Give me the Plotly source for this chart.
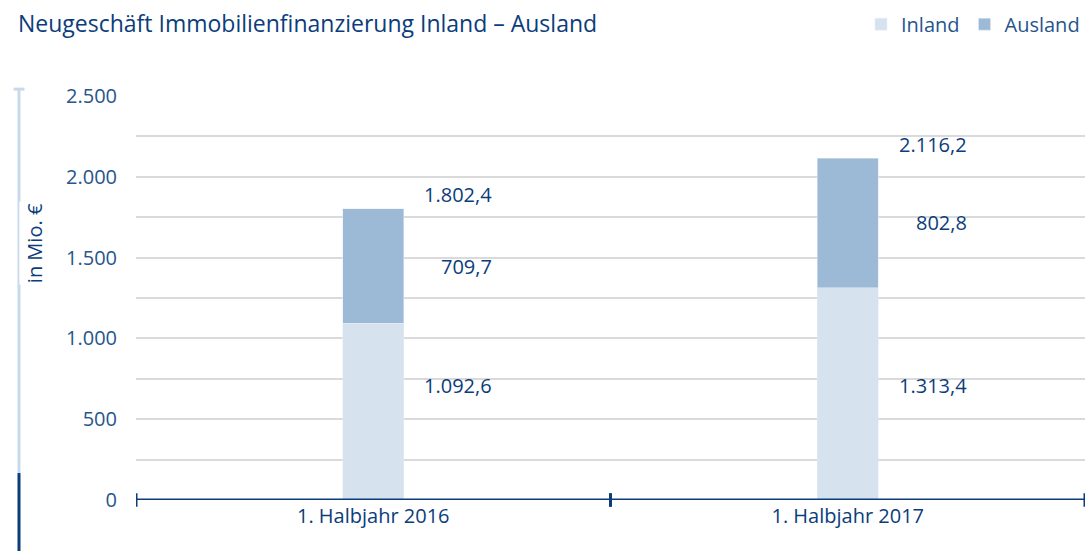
import plotly.graph_objects as go

categories = ["1. Halbjahr 2016", "1. Halbjahr 2017"]
inland = [1092.6, 1313.4]
ausland = [709.7, 802.8]
totals = [1802.4, 2116.2]

def de(v):
    s = f"{v:,.1f}"
    return s.replace(",", "X").replace(".", ",").replace("X", ".")

DARK = "#0b3d7b"
TICK = "#27558c"
C_IN = "#d6e2ee"
C_AUS = "#9cbad6"
FONT = "Open Sans"
FS = 20

fig = go.Figure()
fig.add_trace(go.Bar(name="Inland", x=categories, y=inland, marker_color=C_IN, width=0.128))
fig.add_trace(go.Bar(name="Ausland", x=categories, y=ausland, marker_color=C_AUS, width=0.128))

ann = []
for i, c in enumerate(categories):
    ann.append(dict(x=c, y=0.284, xref="x", yref="paper", yanchor="middle", text=de(inland[i]),
                    showarrow=False, xanchor="right", xshift=121, font=dict(size=FS, color=DARK)))
    ann.append(dict(x=c, y=inland[i] + ausland[i] / 2, xref="x", yref="y", yanchor="middle",
                    text=de(ausland[i]), showarrow=False, xanchor="right", xshift=121,
                    font=dict(size=FS, color=DARK)))
    ann.append(dict(x=c, y=totals[i], xref="x", yref="y", yanchor="middle", text=de(totals[i]),
                    showarrow=False, xanchor="right", xshift=121, yshift=14,
                    font=dict(size=FS, color=DARK)))

# y-axis title with vertical rule
ann.append(dict(x=-0.1233, y=0.637, xref="paper", yref="paper", yanchor="middle", text="in Mio. €",
                textangle=-90, showarrow=False, bgcolor="white", font=dict(size=FS, color=DARK)))

shapes = [
    dict(type="line", xref="paper", yref="paper", x0=-0.1233, x1=-0.1233, y0=0.0667, y1=1.017,
         line=dict(color="#c9d9ea", width=3), layer="below"),
    dict(type="line", xref="paper", yref="paper", x0=-0.1233, x1=-0.1233, y0=-0.13, y1=0.0667,
         line=dict(color=DARK, width=3)),
    dict(type="line", xref="paper", yref="paper", x0=-0.129, x1=-0.1175, y0=1.017, y1=1.017,
         line=dict(color="#c9d9ea", width=3)),
    dict(type="line", xref="x", yref="y", x0=-0.5, x1=1.5, y0=0, y1=0,
         line=dict(color=DARK, width=3)),
]
for xb in [-0.5, 0.5, 1.5]:
    shapes.append(dict(type="line", xref="x", yref="paper", x0=xb, x1=xb, y0=-0.017, y1=0.017,
                       line=dict(color=DARK, width=3)))

fig.update_layout(
    barmode="stack",
    width=1091, height=551,
    margin=dict(l=136, r=6, t=95, b=51),
    paper_bgcolor="white", plot_bgcolor="white",
    font=dict(family=FONT, color=DARK),
    title=dict(text="Neugeschäft Immobilienfinanzierung Inland – Ausland", x=18 / 1091, xanchor="left",
               y=1 - 24 / 551, yanchor="middle", font=dict(size=23, color=DARK, family=FONT)),
    legend=dict(orientation="h", x=1.0, xanchor="right", y=1.175, yanchor="middle",
                font=dict(size=FS, color=TICK), itemwidth=30, traceorder="normal"),
    xaxis=dict(range=[-0.5, 1.5], showgrid=False, showline=False, ticks="",
               tickfont=dict(size=FS, color=DARK), ticklabelstandoff=2),
    yaxis=dict(range=[0, 2500], dtick=500, tickformat=",d", showline=False, zeroline=False,
               gridcolor="#dadada", gridwidth=1.5,
               minor=dict(dtick=250, showgrid=True, gridcolor="#dadada", gridwidth=1.5),
               tickfont=dict(size=FS, color=TICK), ticklabelstandoff=18),
    separators=",.",
    annotations=ann,
    shapes=shapes,
    showlegend=True,
)

fig.write_html("out.html", config={"displayModeBar": False},
               post_script="document.body.style.margin='0';document.body.style.overflow='hidden';")
